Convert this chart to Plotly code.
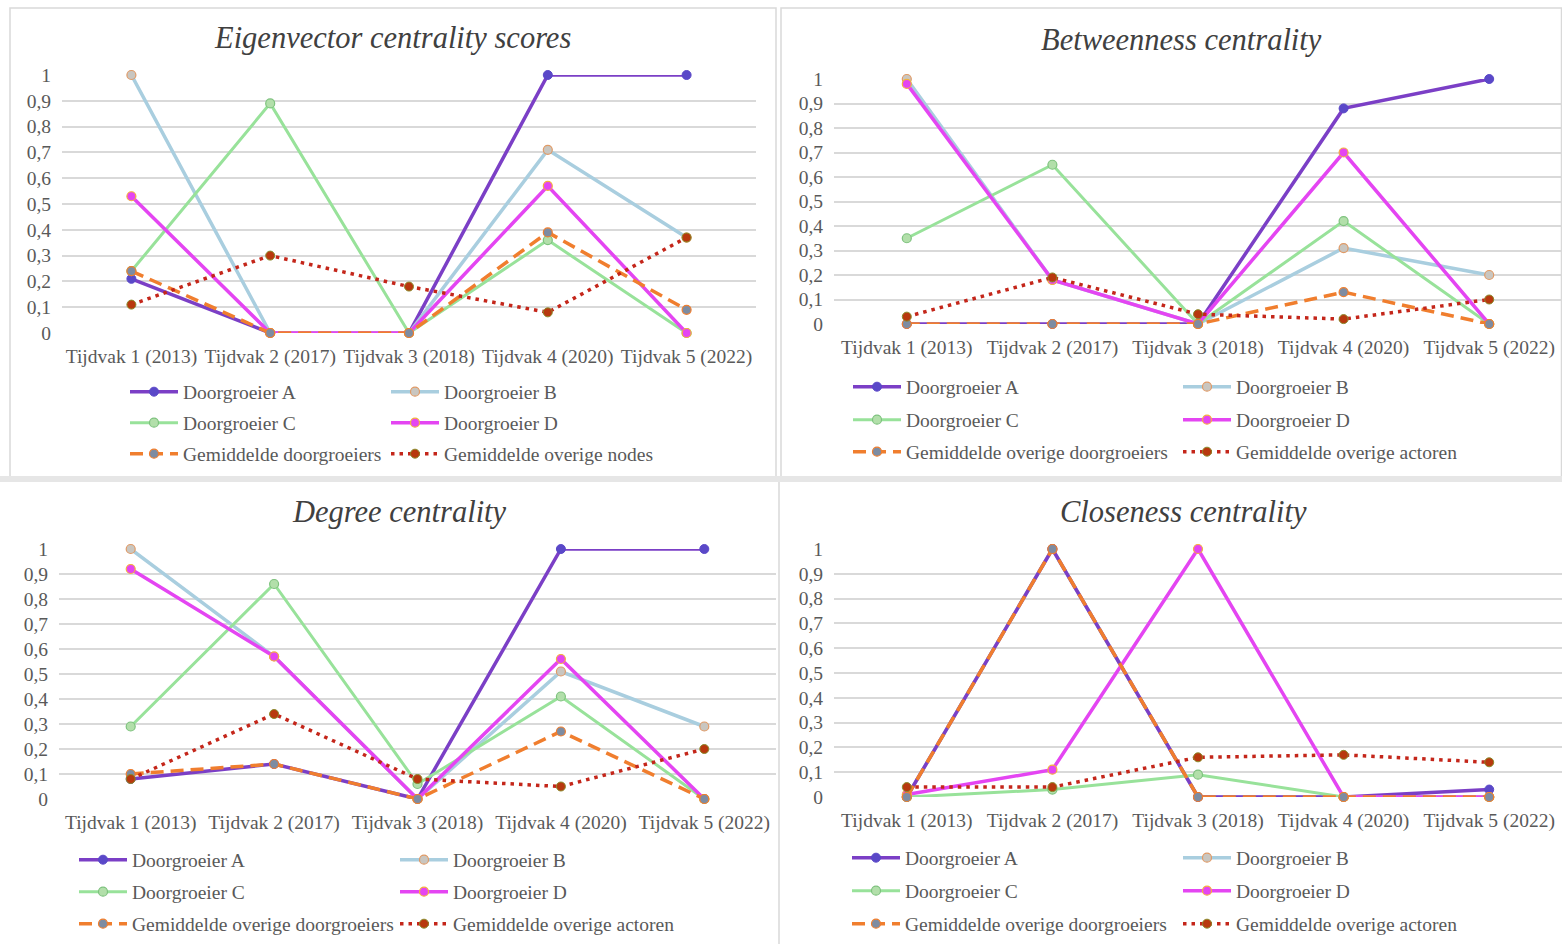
import plotly.graph_objects as go

categories = ["Tijdvak 1 (2013)", "Tijdvak 2 (2017)", "Tijdvak 3 (2018)", "Tijdvak 4 (2020)", "Tijdvak 5 (2022)"]

titles = ["Eigenvector centrality scores", "Betweenness centrality", "Degree centrality", "Closeness centrality"]

names_eig = ["Doorgroeier A", "Doorgroeier B", "Doorgroeier C", "Doorgroeier D",
             "Gemiddelde doorgroeiers", "Gemiddelde overige nodes"]
names_other = ["Doorgroeier A", "Doorgroeier B", "Doorgroeier C", "Doorgroeier D",
               "Gemiddelde overige doorgroeiers", "Gemiddelde overige actoren"]

# Eigenvector centrality
eig_A = [0.21, 0, 0, 1, 1]
eig_B = [1, 0, 0, 0.71, 0.37]
eig_C = [0.24, 0.89, 0, 0.36, 0]
eig_D = [0.53, 0, 0, 0.57, 0]
eig_gem = [0.24, 0, 0, 0.39, 0.09]
eig_ov = [0.11, 0.30, 0.18, 0.08, 0.37]

# Betweenness centrality
bet_A = [0, 0, 0, 0.88, 1]
bet_B = [1, 0.18, 0, 0.31, 0.20]
bet_C = [0.35, 0.65, 0, 0.42, 0]
bet_D = [0.98, 0.18, 0, 0.70, 0]
bet_gem = [0, 0, 0, 0.13, 0]
bet_ov = [0.03, 0.19, 0.04, 0.02, 0.10]

# Degree centrality
deg_A = [0.08, 0.14, 0, 1, 1]
deg_B = [1, 0.57, 0, 0.51, 0.29]
deg_C = [0.29, 0.86, 0.06, 0.41, 0]
deg_D = [0.92, 0.57, 0, 0.56, 0]
deg_gem = [0.10, 0.14, 0, 0.27, 0]
deg_ov = [0.08, 0.34, 0.08, 0.05, 0.20]

# Closeness centrality
clo_A = [0, 1, 0, 0, 0.03]
clo_B = [0, 1, 0, 0, 0]
clo_C = [0, 0.03, 0.09, 0, 0]
clo_D = [0.01, 0.11, 1, 0, 0]
clo_gem = [0, 1, 0, 0, 0]
clo_ov = [0.04, 0.04, 0.16, 0.17, 0.14]

y_ticks = [0, 0.1, 0.2, 0.3, 0.4, 0.5, 0.6, 0.7, 0.8, 0.9, 1]
y_ticklabels = ["0", "0,1", "0,2", "0,3", "0,4", "0,5", "0,6", "0,7", "0,8", "0,9", "1"]

panels = [
    (names_eig, [eig_A, eig_B, eig_C, eig_D, eig_gem, eig_ov]),
    (names_other, [bet_A, bet_B, bet_C, bet_D, bet_gem, bet_ov]),
    (names_other, [deg_A, deg_B, deg_C, deg_D, deg_gem, deg_ov]),
    (names_other, [clo_A, clo_B, clo_C, clo_D, clo_gem, clo_ov]),
]
# drawing order per panel (closeness: B lies hidden beneath A)
draw_orders = [[0, 1, 2, 3, 4, 5], [0, 1, 2, 3, 4, 5], [0, 1, 2, 3, 4, 5], [1, 0, 2, 3, 4, 5]]

W, H = 1562, 944
FONT = "Liberation Serif"
TICK_SIZE = 19.5
LEG_SIZE = 19.5

styles = [
    dict(line=dict(color="#7B3FC6", width=3.5), marker=dict(color="#5A48C8", size=9, line=dict(color="#5A48C8", width=1))),
    dict(line=dict(color="#A9CEDF", width=3.5), marker=dict(color="#C9C6C0", size=9, line=dict(color="#E09A66", width=1.2))),
    dict(line=dict(color="#98E29A", width=3), marker=dict(color="#B2DFAA", size=9, line=dict(color="#7EC27E", width=1.2))),
    dict(line=dict(color="#E445F2", width=3.5), marker=dict(color="#E445F2", size=9, line=dict(color="#F4B13C", width=1.2))),
    dict(line=dict(color="#F07E2E", width=3.5, dash="13px,7px"), marker=dict(color="#7D8CA2", size=9, line=dict(color="#F07E2E", width=1.2))),
    dict(line=dict(color="#C4261A", width=3.5, dash="3.5px,5px"), marker=dict(color="#B8380E", size=9, line=dict(color="#8A8A2A", width=1))),
]

# pixel geometry: (x_left, x_right, y_top(1), y_bottom(0))
geom = [
    (62, 756, 75, 333),
    (834, 1562, 79, 324),
    (59, 776, 549, 799),
    (834, 1562, 549, 797),
]
title_pos = [(392, 38), (1181, 40), (399, 512), (1183, 512)]
legend_rows = [
    ([392, 423, 454], 183, 444),
    ([387, 420, 452], 906, 1236),
    ([860, 892, 924], 132, 453),
    ([858, 891, 924], 905, 1236),
]

ITEMW = 48

fig = go.Figure()
layout = {}
legend_idx = 0
for p, (names, series) in enumerate(panels):
    ax = "" if p == 0 else str(p + 1)
    xl, xr, yt, yb = geom[p]
    layout["xaxis" + ax] = dict(
        domain=[xl / W, xr / W], anchor="y" + ax, type="category",
        categoryorder="array", categoryarray=categories,
        range=[-0.5, 4.5], showgrid=False, zeroline=False, showline=False,
        ticks="", ticklabelstandoff=9,
        tickfont=dict(family=FONT, size=TICK_SIZE, color="#595959"),
        fixedrange=True, automargin=False,
    )
    layout["yaxis" + ax] = dict(
        domain=[1 - yb / H, 1 - yt / H], anchor="x" + ax, range=[0, 1],
        tickvals=y_ticks, ticktext=y_ticklabels, showgrid=True,
        gridcolor="#D9D9D9", gridwidth=1.5, zeroline=False, showline=False,
        ticks="", ticklabelstandoff=10, automargin=False,
        tickfont=dict(family=FONT, size=TICK_SIZE, color="#595959"), fixedrange=True,
    )
    rows, c1, c2 = legend_rows[p]
    entry = (c2 - c1) - (ITEMW + 15)
    legnames = []
    for r, yr in enumerate(rows):
        legend_idx += 1
        lname = "legend" if legend_idx == 1 else "legend" + str(legend_idx)
        legnames.append(lname)
        layout[lname] = dict(
            x=(c1 - ITEMW - 10) / W, xanchor="left", y=1 - yr / H, yanchor="middle",
            orientation="h", entrywidth=entry, entrywidthmode="pixels",
            itemwidth=ITEMW, bgcolor="rgba(0,0,0,0)", borderwidth=0,
            font=dict(family=FONT, size=LEG_SIZE, color="#595959"),
            tracegroupgap=0, traceorder="normal",
        )
    for i in draw_orders[p]:
        nm, ys = names[i], series[i]
        st = styles[i]
        extra = {}
        if i % 2 == 1:
            extra["legendwidth"] = 300
        fig.add_trace(go.Scatter(
            x=categories, y=ys, name=nm, mode="lines+markers",
            xaxis="x" + ax, yaxis="y" + ax, line=st["line"], marker=st["marker"],
            cliponaxis=False, legend=legnames[i // 2], legendrank=1000 + i,
            showlegend=True, hoverinfo="skip", **extra,
        ))
    tx, ty = title_pos[p]
    fig.add_annotation(
        x=tx / W, y=1 - ty / H, xref="paper", yref="paper", text="<i>" + titles[p] + "</i>",
        showarrow=False, xanchor="center", yanchor="middle",
        font=dict(family=FONT, size=30.5, color="#404040"),
    )

shapes = [
    dict(type="rect", xref="paper", yref="paper", x0=10 / W, x1=776 / W, y0=1 - 477 / H, y1=1 - 8 / H,
         line=dict(color="#D9D9D9", width=1.5), fillcolor="rgba(0,0,0,0)", layer="below"),
    dict(type="rect", xref="paper", yref="paper", x0=781 / W, x1=1561.5 / W, y0=1 - 477 / H, y1=1 - 8 / H,
         line=dict(color="#D9D9D9", width=1.5), fillcolor="rgba(0,0,0,0)", layer="below"),
    dict(type="rect", xref="paper", yref="paper", x0=0, x1=1, y0=1 - 482 / H, y1=1 - 476 / H,
         line=dict(width=0), fillcolor="#E6E6E6", layer="below"),
    dict(type="line", xref="paper", yref="paper", x0=779 / W, x1=779 / W, y0=0, y1=1 - 482 / H,
         line=dict(color="#D9D9D9", width=1.5), layer="below"),
]

fig.update_layout(
    template="none",
    width=W, height=H, margin=dict(l=0, r=0, t=0, b=0, autoexpand=False),
    paper_bgcolor="white", plot_bgcolor="white",
    shapes=shapes, showlegend=True, hovermode=False,
    **layout,
)

fig.write_html("out.html", config={"displayModeBar": False},
               post_script="document.body.style.margin='0';document.body.style.overflow='hidden';")
